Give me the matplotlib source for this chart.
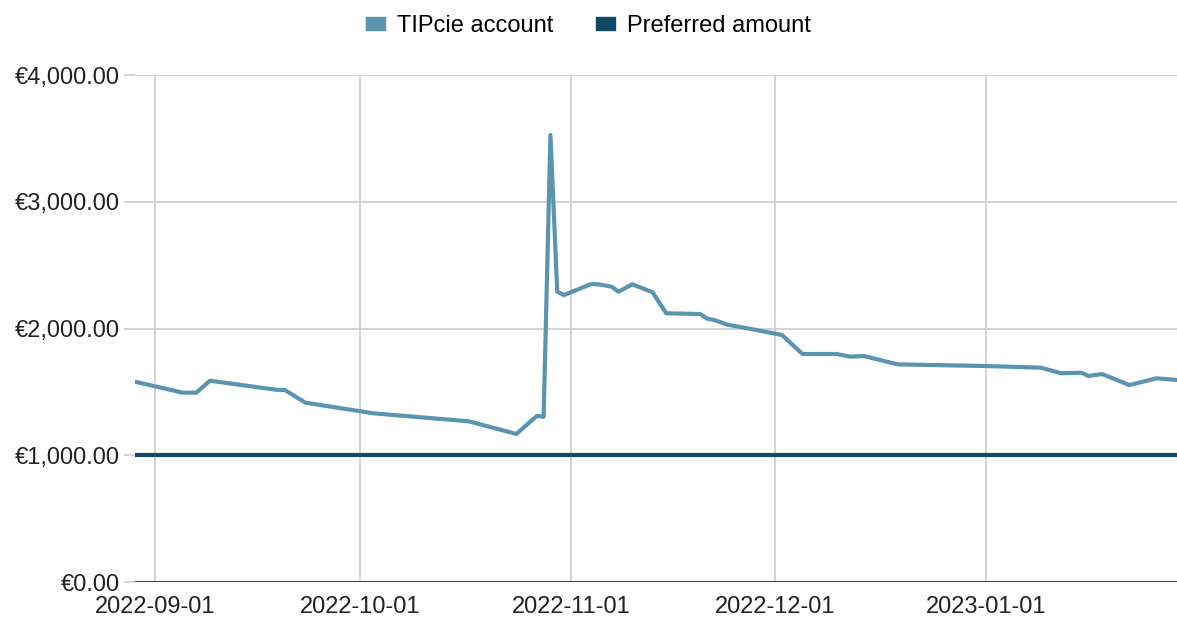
import numpy as np
import pandas as pd
import matplotlib.pyplot as plt
import matplotlib.dates as mdates
from matplotlib.ticker import FuncFormatter
from matplotlib.patches import Patch

plt.rcParams['font.family'] = ['Liberation Sans', 'DejaVu Sans']

# balance of the TIPcie account
dates = ["2022-08-29", "2022-09-05", "2022-09-07", "2022-09-09", "2022-09-19",
         "2022-09-20", "2022-09-23", "2022-10-03", "2022-10-17", "2022-10-24",
         "2022-10-27", "2022-10-28", "2022-10-29", "2022-10-30", "2022-10-31",
         "2022-11-04", "2022-11-05", "2022-11-07", "2022-11-08", "2022-11-10",
         "2022-11-13", "2022-11-15", "2022-11-20", "2022-11-21", "2022-11-22",
         "2022-11-24", "2022-11-27", "2022-12-02", "2022-12-05", "2022-12-10",
         "2022-12-12", "2022-12-14", "2022-12-19", "2023-01-01", "2023-01-09",
         "2023-01-12", "2023-01-15", "2023-01-16", "2023-01-18", "2023-01-22",
         "2023-01-26", "2023-01-29"]
balance = [1580, 1494, 1494, 1588, 1515,
           1515, 1415, 1331, 1268, 1168,
           1310, 1304, 3527, 2290, 2264,
           2351, 2349, 2330, 2290, 2349,
           2286, 2120, 2114, 2078, 2068,
           2030, 2001, 1949, 1799, 1799,
           1778, 1783, 1717, 1704, 1691,
           1647, 1651, 1625, 1641, 1554,
           1607, 1594]
preferred = 1000

x = pd.to_datetime(dates)
c_acc = "#5b94b1"
c_pref = "#0f4a66"

fig = plt.figure(figsize=(11.77, 6.22), dpi=100)
ax = fig.add_axes([0.1147, 0.0643, 0.8853, 0.8151])

ax.plot(x, balance, color=c_acc, lw=3, solid_joinstyle='round', zorder=3)
ax.plot(x, [preferred] * len(x), color=c_pref, lw=3, zorder=3)

ax.set_xlim(x[0], x[-1])
ax.set_ylim(0, 4000)
ax.set_yticks([0, 1000, 2000, 3000, 4000])
ax.yaxis.set_major_formatter(FuncFormatter(lambda v, p: "€{:,.2f}".format(v)))
ax.xaxis.set_major_locator(mdates.MonthLocator())
ax.xaxis.set_major_formatter(mdates.DateFormatter("%Y-%m-%d"))

ax.grid(True, color="#cccccc", lw=1.2)
for s in ax.spines.values():
    s.set_visible(False)
ax.axhline(0, color="#333333", lw=2, zorder=4)
ax.tick_params(axis='x', length=0, pad=10, labelsize=17, colors="#222222")
ax.tick_params(axis='y', length=8, width=1.2, color="#cccccc", pad=3,
               labelsize=17, labelcolor="#222222")

handles = [Patch(color=c_acc), Patch(color=c_pref)]
fig.legend(handles, ["TIPcie account", "Preferred amount"], loc='upper center',
           bbox_to_anchor=(0.5, 1.01), ncol=2, frameon=False, fontsize=17,
           handlelength=0.8, handleheight=0.5, handletextpad=0.5,
           columnspacing=1.8)

fig.savefig("out.png", dpi=100)
